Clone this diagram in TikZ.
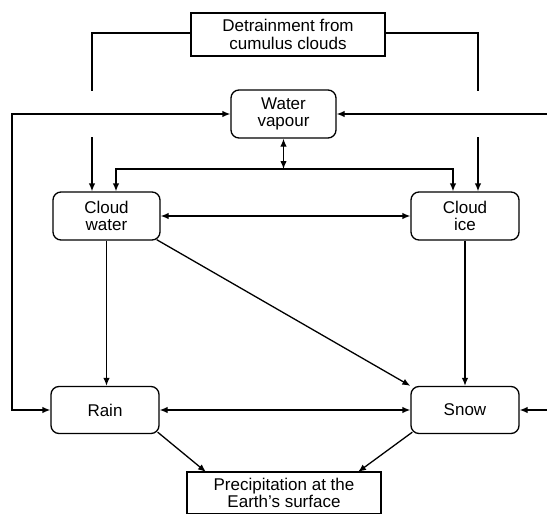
\documentclass[tikz,border=0pt]{standalone}
\usepackage{fontspec}
\setmainfont{Liberation Sans}
\usetikzlibrary{arrows.meta}
\tikzset{
  box/.style={draw, line width=1.3pt, align=center, inner sep=0pt,
    font=\fontsize{17}{17.5}\selectfont},
  rbox/.style={box, rounded corners=8pt},
  conn/.style={line width=1.3pt, arrows={-Latex[length=8pt,width=6.5pt]}},
  dconn/.style={line width=1.3pt, arrows={Latex[length=8pt,width=6.5pt]-Latex[length=8pt,width=6.5pt]}},
  plain/.style={line width=1.3pt}
}
\begin{document}
\begin{tikzpicture}[x=1pt,y=1pt]
\useasboundingbox (0,0) rectangle (547,-514);
% nodes
\node[box, minimum width=194pt, minimum height=43pt] (det) at (288,-34.5) {Detrainment from\\cumulus clouds};
\node[rbox, minimum width=105pt, minimum height=48pt] (wv) at (283.5,-114) {Water\\vapour};
\node[rbox, minimum width=107pt, minimum height=48pt] (cw) at (106.5,-216) {Cloud\\water};
\node[rbox, minimum width=108pt, minimum height=48pt] (ci) at (465,-216) {Cloud\\ice};
\node[rbox, minimum width=108pt, minimum height=47pt] (rain) at (105,-410) {Rain};
\node[rbox, minimum width=108pt, minimum height=47pt] (snow) at (465,-410) {Snow};
\node[box, minimum width=194pt, minimum height=42pt] (prec) at (284,-493) {Precipitation at the\\Earth's surface};
% helper coordinates
\coordinate (lg1) at (92,-91);
\coordinate (lg2) at (92,-137);
\coordinate (rg1) at (478,-91);
\coordinate (rg2) at (478,-137);
\coordinate (lx) at (12,0);
\coordinate (re1) at (547,-114);
\coordinate (re2) at (547,-410);
\coordinate (hl1) at (116,-169);
\coordinate (hl2) at (453,-169);
\coordinate (p1) at (206,-472);
\coordinate (p2) at (358,-472);
% detrainment feeds
\draw[plain] (det.west |- 0,-33) -| (lg1);
\draw[conn] (lg2) -- (lg2 |- cw.north);
\draw[plain] (det.east |- 0,-33) -| (rg1);
\draw[conn] (rg2) -- (rg2 |- ci.north);
% water vapour links
\draw[dconn] (wv.west) -- (wv.west -| lx) |- (rain.west);
\draw[conn] (re1) -- (wv.east);
\draw[conn] (re2) -- (snow.east);
\draw[dconn] (wv.south) -- (wv.south |- hl1);
\draw[dconn] (cw.north -| hl1) -- (hl1) -- (hl2) -- (ci.north -| hl2);
% cloud links
\draw[dconn] (cw.east) -- (ci.west);
\draw[conn] (cw.south) -- (cw.south |- rain.north);
\draw[conn] (ci.south) -- (ci.south |- snow.north);
\draw[conn] ([xshift=-4pt,yshift=1pt]cw.south east) -- (snow.north west);
\draw[dconn] (rain.east) -- (snow.west);
% precipitation
\draw[conn] ([xshift=-2pt,yshift=2pt]rain.south east) -- (p1);
\draw[conn] ([xshift=2pt,yshift=2pt]snow.south west) -- (p2);
\end{tikzpicture}
\end{document}
